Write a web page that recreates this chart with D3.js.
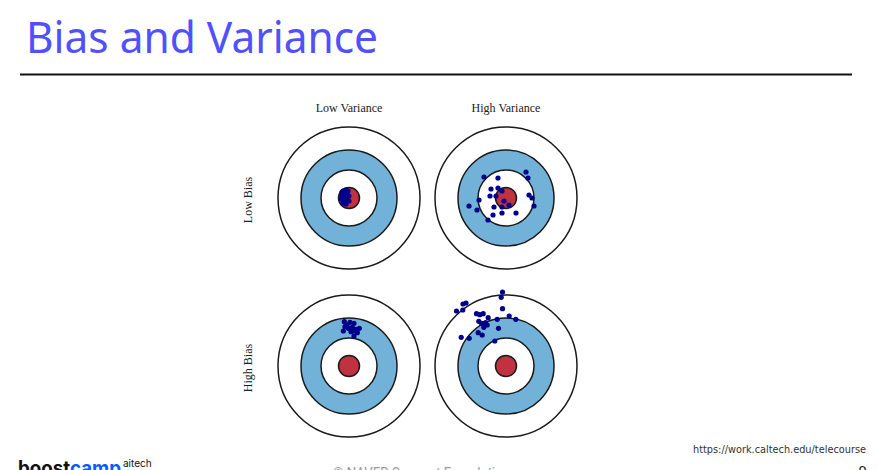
<!DOCTYPE html>
<html>
<head>
<meta charset="utf-8">
<script src="https://cdn.jsdelivr.net/npm/d3@7"></script>
<style>
  body { margin: 0; background: #fff; }
  svg { display: block; }
</style>
</head>
<body>
<svg id="slide" width="878" height="470"></svg>
<script>
// ---- data (target units ~ pixels, offsets from bull's eye) ----
var colLabels = ["Low Variance", "High Variance"]
var rowLabels = ["Low Bias", "High Bias"]
var ringRadii = [71, 48, 28, 10.5]                 // outer white, blue, inner white, red
var ringFills = ["#ffffff", "#72b1d8", "#ffffff", "#c1313f"]

var dotsLowBiasLowVar = [[-6,-7],[-3,-8],[-7,-3],[-5,0],[-8,1],[-4,3],[-2,-5],[0,-2],[-6,5],[-3,6],[0,3],[-1,-7],[-7,-6],
  [-4,-4],[-2,1],[-6,-1],[-5,4]]
var dotsLowBiasHighVar = [[-22,-21],[-8,-20],[20,-26],[22,-20],[-15,-9],[-8,-10],[-4,-7],[-16,-2],[-10,-2],[-27,2],
  [-37,8],[-29,12],[-12,9],[-4,9],[-2,3],[3,7],[-4,15],[-13,17],[10,15],[-18,22],[23,-3],[26,0],[28,8]]
var dotsHighBiasLowVar = [[-4.7,-44.3],[1,-43.7],[5,-42.7],[-4,-39.3],[-0.7,-37.7],[3.3,-38.7],[7,-36.7],[10.3,-37.7],
  [-5.7,-35],[2,-34.3],[8.3,-33.3],[5,-30],[-2,-41],[4,-35]]
var dotsHighBiasHighVar = [[-3.5,-74],[-4.8,-68.7],[-40,-63],[-43,-62],[-49.5,-55],[-43.2,-56],[-3.5,-57.3],[-29.5,-52.3],
  [-26.2,-51.3],[-22.8,-52.3],[-17.8,-48.3],[-27.2,-44.7],[-24.5,-42.7],[-20.5,-43.3],[-22.2,-38.7],[-18.8,-41],
  [-8.8,-46.7],[3.2,-50],[9.8,-46.7],[-7.5,-37.7],[-27.8,-33.3],[-23.8,-31],[-44.8,-28.7],[-36.8,-27.7],[-11.2,-25]]

var panels = [
  {row: 0, col: 0, dots: dotsLowBiasLowVar},
  {row: 0, col: 1, dots: dotsLowBiasHighVar},
  {row: 1, col: 0, dots: dotsHighBiasLowVar},
  {row: 1, col: 1, dots: dotsHighBiasHighVar}
]

var svg = d3.select("#slide")

// ---- slide header ----
svg.append("text")
  .attr("x", 26).attr("y", 52.5)
  .attr("font-family", "'Noto Sans', sans-serif")
  .attr("font-size", 43)
  .attr("fill", "#5050fc")
  .attr("textLength", 352).attr("lengthAdjust", "spacingAndGlyphs")
  .text("Bias and Variance")

svg.append("line")
  .attr("x1", 20).attr("x2", 852)
  .attr("y1", 74.5).attr("y2", 74.5)
  .attr("stroke", "#111").attr("stroke-width", 2.2)

// ---- grid scales ----
var colX = d3.scalePoint().domain([0, 1]).range([349, 506])
var rowY = d3.scalePoint().domain([0, 1]).range([198, 366])

svg.selectAll(".colLabel").data(colLabels).enter().append("text")
  .attr("class", "colLabel")
  .attr("x", function(d, i){ return colX(i) })
  .attr("y", 112)
  .attr("text-anchor", "middle")
  .attr("font-family", "'Liberation Serif', 'Times New Roman', serif")
  .attr("font-size", 12)
  .attr("fill", "#222")
  .text(function(d){ return d })

svg.selectAll(".rowLabel").data(rowLabels).enter().append("text")
  .attr("class", "rowLabel")
  .attr("transform", function(d, i){ return "translate(252," + (rowY(i) + 2) + ") rotate(-90)" })
  .attr("text-anchor", "middle")
  .attr("font-family", "'Liberation Serif', 'Times New Roman', serif")
  .attr("font-size", 12)
  .attr("fill", "#222")
  .text(function(d){ return d })

// ---- targets ----
panels.forEach(function(p){
  var cx = colX(p.col), cy = rowY(p.row)
  var x = d3.scaleLinear().domain([-80, 80]).range([cx - 80, cx + 80])
  var y = d3.scaleLinear().domain([-80, 80]).range([cy - 80, cy + 80])
  var g = svg.append("g")

  g.selectAll("circle.ring").data(ringRadii).enter().append("circle")
    .attr("class", "ring")
    .attr("cx", x(0)).attr("cy", y(0))
    .attr("r", function(d){ return x(d) - x(0) })
    .attr("fill", function(d, i){ return ringFills[i] })
    .attr("stroke", "#1a1a1a").attr("stroke-width", 1.5)

  g.selectAll("circle.dot").data(p.dots).enter().append("circle")
    .attr("class", "dot")
    .attr("cx", function(d){ return x(d[0]) })
    .attr("cy", function(d){ return y(d[1]) })
    .attr("r", 2.6)
    .attr("fill", "#00008b")
})

// ---- footer ----
svg.append("text")
  .attr("x", 866).attr("y", 453)
  .attr("text-anchor", "end")
  .attr("font-family", "'DejaVu Sans Condensed', 'Liberation Sans Narrow', sans-serif")
  .attr("font-size", 11)
  .attr("fill", "#333")
  .attr("textLength", 173).attr("lengthAdjust", "spacingAndGlyphs")
  .text("https://work.caltech.edu/telecourse")

var logo = svg.append("text")
  .attr("x", 18).attr("y", 475)
  .attr("font-family", "Inter, 'Noto Sans', sans-serif")
  .attr("font-size", 20).attr("font-weight", 700)
  .attr("textLength", 103).attr("lengthAdjust", "spacingAndGlyphs")
logo.append("tspan").attr("fill", "#111").text("boost")
logo.append("tspan").attr("fill", "#0a5cff").text("camp")

svg.append("text")
  .attr("x", 123).attr("y", 467)
  .attr("font-family", "Inter, 'Noto Sans', sans-serif")
  .attr("font-size", 10)
  .attr("fill", "#111")
  .text("aitech")

svg.append("text")
  .attr("x", 333).attr("y", 478)
  .attr("font-family", "Roboto, 'Noto Sans', sans-serif")
  .attr("font-size", 14)
  .attr("fill", "#9a9a9a")
  .attr("textLength", 177).attr("lengthAdjust", "spacingAndGlyphs")
  .text("©  NAVER Connect Foundation")

svg.append("text")
  .attr("x", 867).attr("y", 477)
  .attr("text-anchor", "end")
  .attr("font-family", "Roboto, 'Noto Sans', sans-serif")
  .attr("font-size", 15)
  .attr("fill", "#222")
  .text("9")
</script>
</body>
</html>
